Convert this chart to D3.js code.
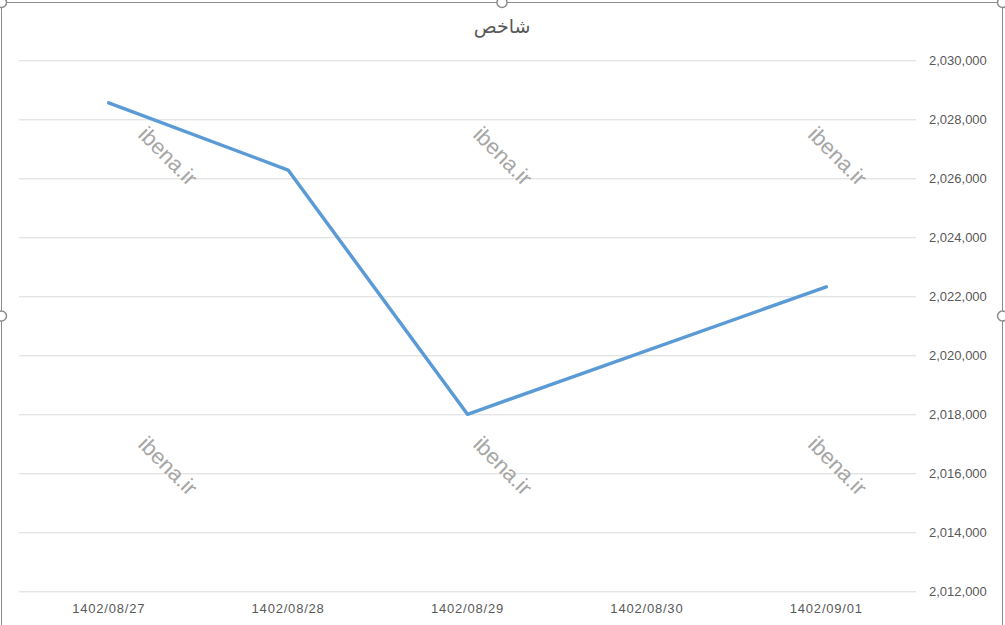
<!DOCTYPE html>
<html>
<head>
<meta charset="utf-8">
<script src="https://cdn.jsdelivr.net/npm/d3@7"></script>
<style>
  html, body { margin: 0; padding: 0; background: #fff; }
  svg { display: block; }
</style>
</head>
<body>
<script>
const categories = ["1402/08/27", "1402/08/28", "1402/08/29", "1402/08/30", "1402/09/01"];
const values = [2028560, 2026280, 2018000, null, 2022320];
const yTicks = [2012000, 2014000, 2016000, 2018000, 2020000, 2022000, 2024000, 2026000, 2028000, 2030000];
const title = "شاخص";
const watermark = "ibena.ir";

const W = 1005, H = 625;
const svg = d3.select("body").append("svg").attr("width", W).attr("height", H);

const plot = { left: 19, right: 916, top: 60.3, bottom: 591.3 };

const x = d3.scaleBand().domain(categories).range([plot.left, plot.right]);
const y = d3.scaleLinear().domain([2012000, 2030000]).range([plot.bottom, plot.top]);

// chart border
svg.append("rect").attr("x", 1.5).attr("y", 2.5).attr("width", 1001).attr("height", 640)
  .attr("fill", "none").attr("stroke", "#8c8c8c").attr("stroke-width", 1);

// gridlines
const gridAxis = d3.axisRight(y).tickValues(yTicks).tickSize(plot.right - plot.left).tickFormat("");
svg.append("g").attr("transform", `translate(${plot.left},0)`).call(gridAxis)
  .call(g => g.select(".domain").remove())
  .call(g => g.selectAll("line").attr("stroke", "#d9d9d9").attr("stroke-width", 1));

// y axis labels (right)
const yAxis = d3.axisRight(y).tickValues(yTicks).tickSize(0).tickPadding(13).tickFormat(d3.format(","));
svg.append("g").attr("transform", `translate(${plot.right},0)`).call(yAxis)
  .call(g => g.select(".domain").remove())
  .call(g => g.selectAll("text").attr("fill", "#595959").attr("font-size", "13px")
    .attr("font-family", "Arial, 'Liberation Sans', sans-serif"));

// x axis labels
const xAxis = d3.axisBottom(x).tickSize(0).tickPadding(12);
svg.append("g").attr("transform", `translate(0,${plot.bottom})`).call(xAxis)
  .call(g => g.select(".domain").remove())
  .call(g => g.selectAll("text").attr("fill", "#595959").attr("font-size", "13px")
    .attr("letter-spacing", "0.8px")
    .attr("font-family", "Arial, 'Liberation Sans', sans-serif"));

// watermarks
const wmX = [categories[0], categories[2], categories[4]];
const wmY = [2026000, 2015500];
wmY.forEach(vy => {
  wmX.forEach((c, i) => {
    const cx = x(c) + x.bandwidth() / 2 + [58, 34, 10][i];
    const cy = y(vy) - 21;
    svg.append("text").attr("transform", `translate(${cx},${cy}) rotate(45)`)
      .attr("text-anchor", "middle").attr("dominant-baseline", "middle")
      .attr("fill", "#a6a6a6").attr("font-size", "22px")
      .attr("font-family", "Arial, 'Liberation Sans', sans-serif")
      .text(watermark);
  });
});

// line
const pts = categories.map((c, i) => ({ c, v: values[i] })).filter(d => d.v !== null);
const line = d3.line().x(d => x(d.c) + x.bandwidth() / 2).y(d => y(d.v));
svg.append("path").datum(pts).attr("d", line)
  .attr("fill", "none").attr("stroke", "#5b9bd5").attr("stroke-width", 3.5)
  .attr("stroke-linejoin", "round").attr("stroke-linecap", "round");

// title
svg.append("text").attr("x", 502).attr("y", 33).attr("text-anchor", "middle")
  .attr("fill", "#595959").attr("font-size", "19px")
  .attr("font-family", "'DejaVu Sans', 'Noto Sans', sans-serif").text(title);

// selection handles
const handles = [[1.5, 2.5], [502, 2.5], [1002.5, 2.5], [1.5, 316], [1002.5, 316]];
svg.selectAll("circle.h").data(handles).enter().append("circle")
  .attr("cx", d => d[0]).attr("cy", d => d[1]).attr("r", 5)
  .attr("fill", "#fff").attr("stroke", "#8c8c8c").attr("stroke-width", 1.5);
</script>
</body>
</html>
